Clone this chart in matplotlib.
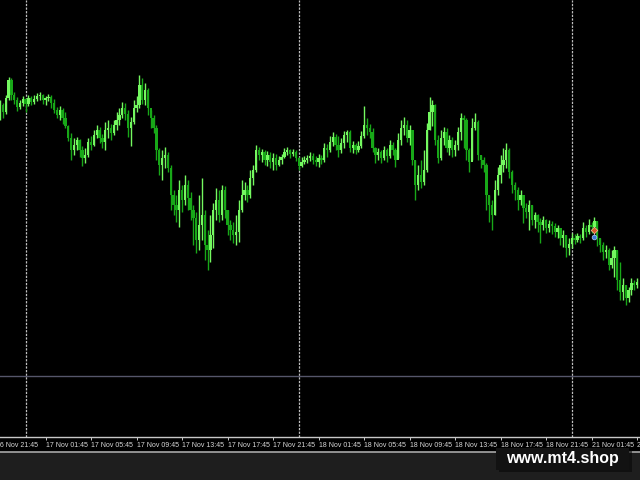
import numpy as np
import matplotlib.pyplot as plt
from matplotlib.patches import Rectangle

plt.rcParams['font.family'] = ['Liberation Sans', 'DejaVu Sans']

# 15 min velas, precio en puntos (eje de precios oculto como en la captura)
first_open = 385
closes = [395, 388, 402, 420, 405, 400, 393, 397, 401, 396,
          402, 398, 401, 404, 405, 400, 402, 403, 397, 390,
          385, 390, 382, 374, 362, 350, 355, 360, 350, 342,
          345, 358, 355, 365, 370, 362, 358, 370, 372, 367,
          375, 380, 385, 392, 386, 372, 378, 392, 395, 415,
          400, 410, 392, 382, 372, 350, 335, 342, 345, 332,
          305, 295, 290, 310, 300, 315, 302, 290, 282, 260,
          275, 285, 255, 250, 265, 290, 300, 285, 310, 290,
          275, 270, 265, 268, 290, 305, 310, 305, 322, 330,
          350, 345, 348, 340, 345, 338, 342, 335, 340, 343,
          348, 350, 346, 348, 342, 334, 338, 340, 342, 344,
          340, 338, 342, 340, 352, 350, 358, 363, 355, 350,
          357, 365, 368, 352, 355, 350, 354, 364, 375, 372,
          368, 352, 345, 348, 342, 350, 344, 355, 350, 340,
          360, 372, 375, 362, 370, 340, 315, 325, 318, 330,
          370, 388, 395, 360, 342, 362, 368, 352, 360, 350,
          355, 368, 382, 380, 350, 338, 372, 378, 345, 340,
          335, 305, 295, 285, 310, 325, 335, 340, 350, 328,
          315, 310, 300, 305, 292, 288, 295, 280, 285, 278,
          275, 280, 272, 276, 274, 268, 272, 262, 265, 252,
          256, 262, 260, 264, 262, 272, 268, 275, 273, 279,
          262, 255, 248, 250, 235, 242, 250, 220, 208, 215,
          202, 210, 217, 215, 218]
highs = [400, 397, 405, 423, 422, 408, 403, 400, 404, 402,
         405, 404, 405, 407, 408, 406, 404, 406, 405, 401,
         393, 394, 392, 388, 375, 367, 362, 363, 361, 354,
         352, 362, 364, 370, 375, 373, 366, 378, 380, 376,
         380, 388, 392, 398, 397, 390, 383, 400, 404, 425,
         422, 417, 412, 390, 385, 375, 352, 350, 353, 348,
         335, 310, 305, 320, 315, 325, 320, 308, 295, 288,
         305, 322, 290, 270, 285, 297, 312, 310, 315, 314,
         290, 280, 278, 285, 300, 320, 318, 315, 330, 335,
         355, 353, 351, 350, 349, 348, 347, 346, 344, 346,
         352, 353, 351, 351, 350, 343, 343, 344, 345, 348,
         347, 344, 346, 345, 357, 356, 364, 368, 366, 364,
         362, 369, 370, 370, 359, 357, 359, 369, 394, 382,
         376, 372, 353, 352, 350, 354, 352, 360, 358, 352,
         367, 380, 383, 380, 375, 370, 340, 335, 340, 350,
         377, 403, 400, 396, 365, 370, 373, 372, 365, 363,
         360, 373, 387, 385, 382, 352, 382, 387, 380, 345,
         343, 337, 305, 300, 320, 333, 345, 352, 357, 352,
         330, 318, 313, 310, 305, 297, 300, 295, 288, 286,
         282, 284, 281, 280, 279, 277, 275, 272, 270, 265,
         262, 267, 266, 267, 266, 278, 275, 281, 278, 283,
         279, 262, 258, 255, 252, 250, 254, 250, 238, 222,
         215, 213, 222, 220, 222]
lows = [380, 382, 386, 400, 400, 396, 389, 391, 394, 388,
        394, 395, 396, 399, 400, 396, 395, 399, 392, 387,
        382, 380, 376, 372, 359, 340, 345, 350, 343, 334,
        337, 343, 350, 354, 362, 357, 352, 350, 362, 360,
        365, 370, 375, 382, 380, 363, 354, 376, 388, 392,
        396, 395, 385, 372, 367, 340, 325, 320, 332, 328,
        290, 285, 278, 273, 288, 295, 290, 280, 255, 247,
        250, 260, 240, 230, 238, 252, 280, 278, 280, 282,
        265, 260, 257, 255, 258, 288, 300, 298, 302, 315,
        328, 340, 338, 335, 334, 332, 330, 330, 334, 336,
        342, 345, 342, 344, 339, 330, 333, 336, 337, 339,
        336, 334, 333, 336, 338, 343, 348, 354, 350, 343,
        347, 352, 358, 348, 347, 346, 348, 352, 362, 365,
        362, 348, 337, 340, 337, 340, 338, 342, 345, 333,
        342, 355, 365, 358, 355, 335, 300, 310, 312, 315,
        328, 370, 374, 355, 337, 340, 355, 348, 345, 343,
        344, 350, 360, 352, 340, 328, 340, 370, 340, 332,
        328, 290, 278, 270, 285, 305, 317, 328, 332, 322,
        307, 300, 290, 295, 277, 282, 270, 275, 272, 268,
        257, 270, 267, 268, 266, 263, 262, 255, 253, 243,
        245, 252, 256, 258, 257, 260, 263, 266, 267, 268,
        254, 248, 240, 242, 230, 232, 223, 210, 200, 200,
        195, 198, 205, 210, 212]

first_label = "16 Nov 21:45"
tick_labels = ["17 Nov 01:45", "17 Nov 05:45", "17 Nov 09:45", "17 Nov 13:45",
               "17 Nov 17:45", "17 Nov 21:45", "18 Nov 01:45", "18 Nov 05:45",
               "18 Nov 09:45", "18 Nov 13:45", "18 Nov 17:45", "18 Nov 21:45",
               "21 Nov 01:45", "21 Nov 05:45"]
tick_bars = [16, 32, 48, 64, 80, 96, 112, 128, 144, 160, 176, 192, 208, 224]
day_breaks = [9, 105, 201]
hline_level = 124
trade_bar = 209
trade_open = 270
trade_close = 263

closes = np.array(closes, dtype=float)
highs = np.array(highs, dtype=float)
lows = np.array(lows, dtype=float)
opens = np.concatenate([[first_open], closes[:-1]])
x = np.arange(len(closes))

up = closes >= opens
col_up = '#74f860'
col_dn = '#18a818'
colors = np.where(up, col_up, col_dn)

fig = plt.figure(figsize=(6.4, 4.8), dpi=100, facecolor='black')
ax = fig.add_axes([0, 43 / 480, 1, 437 / 480])
ax.set_facecolor('black')

# separadores de dia y linea horizontal
for d in day_breaks:
    ax.axvline(d, color='#c0c0c0', lw=0.9, linestyle=(0, (1.8, 1.1)), zorder=1)
ax.axhline(hline_level, color='#55566a', lw=1.0, zorder=1)

# velas
ax.vlines(x, lows, highs, colors=colors, lw=1.0, zorder=2)
body = closes - opens
body = np.where(np.abs(body) < 1.5, 1.5, body)
ax.bar(x, body, bottom=opens, width=0.82, color=colors, linewidth=0, zorder=3)

# marcas de la orden
ax.plot([trade_bar, trade_bar], [trade_open, trade_close], color='#c0c0c0', lw=0.6, zorder=4)
ax.plot(trade_bar, trade_open, marker='D', ms=3.4, color='#e05a28', mec='#f0c0a0', mew=0.5, zorder=5)
ax.plot(trade_bar, trade_close, marker='o', ms=3.4, color='#3a78d8', mec='#b0d0f0', mew=0.5, zorder=5)

ax.set_xlim(0, 225)
ax.set_ylim(63, 500)

for s in ['top', 'left', 'right']:
    ax.spines[s].set_visible(False)
ax.spines['bottom'].set_color('#c8c8c8')
ax.spines['bottom'].set_linewidth(1.0)
ax.set_yticks([])
ax.set_xticks(tick_bars)
ax.set_xticklabels(tick_labels)
ax.tick_params(axis='x', direction='out', length=2.2, width=0.7, color='#c8c8c8',
               labelcolor='#d8d8d8', labelsize=5.0, pad=1.4)
plt.setp(ax.get_xticklabels(), ha='left')
ax.text(-1.4, -0.0115, first_label, transform=ax.get_xaxis_transform(),
        fontsize=5.0, color='#d8d8d8', ha='left', va='top', clip_on=False)

# franja inferior
fig.patches.append(Rectangle((0, 0), 1, 28 / 480, transform=fig.transFigure,
                             facecolor='#1e1e1e', edgecolor='none', zorder=0))
fig.lines.append(plt.Line2D([0, 1], [28 / 480, 28 / 480], transform=fig.transFigure,
                            color='#a8a8a8', lw=1.2))

# marca de agua
fig.patches.append(Rectangle((499 / 640, 8 / 480), 133 / 640, 22 / 480, transform=fig.transFigure,
                             facecolor='#080808', edgecolor='none', alpha=0.6, zorder=5))
fig.patches.append(Rectangle((496 / 640, 10 / 480), 133 / 640, 22 / 480, transform=fig.transFigure,
                             facecolor='#121212', edgecolor='none', zorder=6))
fig.text(562 / 640, 22 / 480, 'www.mt4.shop', fontsize=11.5, fontweight='bold',
         color='white', ha='center', va='center', zorder=7)

fig.savefig('out.png', dpi=100, facecolor='black')
